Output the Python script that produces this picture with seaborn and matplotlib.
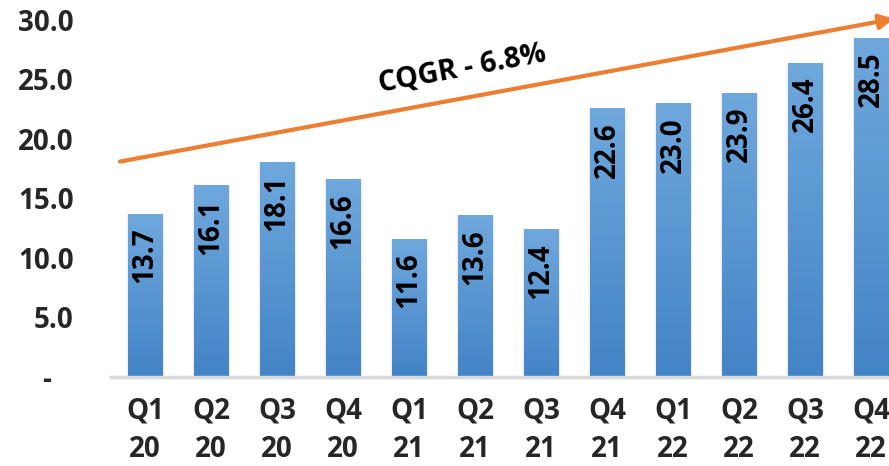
import numpy as np
import pandas as pd
import seaborn as sns
import matplotlib.pyplot as plt
from matplotlib.colors import LinearSegmentedColormap

quarters = ["Q1", "Q2", "Q3", "Q4", "Q1", "Q2", "Q3", "Q4", "Q1", "Q2", "Q3", "Q4"]
years = ["20", "20", "20", "20", "21", "21", "21", "21", "22", "22", "22", "22"]
values = [13.7, 16.1, 18.1, 16.6, 11.6, 13.6, 12.4, 22.6, 23.0, 23.9, 26.4, 28.5]
yticks = [0, 5, 10, 15, 20, 25, 30]
ytick_labels = ["-   ", "5.0", "10.0", "15.0", "20.0", "25.0", "30.0"]
trend_label = "CQGR - 6.8%"
trend_start = (-0.38, 18.1)
trend_end = (11.35, 30.1)

sns.set_style("white")
plt.rcParams["font.family"] = ["Open Sans", "DejaVu Sans"]
plt.rcParams["font.weight"] = "bold"

df = pd.DataFrame({"label": [q + "\n" + y for q, y in zip(quarters, years)],
                   "value": values})

fig = plt.figure(figsize=(8.89, 4.66), dpi=100)
ax = fig.add_axes([111 / 889, 1 - 377 / 466, 1 - 111 / 889, 363 / 466])

sns.barplot(data=df, x="label", y="value", color="#5B9BD5", width=0.52,
            saturation=1, ax=ax, zorder=2)

ax.set_xlim(-0.515, 11.27)
ax.set_ylim(0, 30.5)

# gradient fill for bars
cmap = LinearSegmentedColormap.from_list("bar", ["#4384C6", "#6FA8DD"])
grad = np.linspace(0, 1, 256).reshape(-1, 1)
for p in ax.patches:
    x0, w, h = p.get_x(), p.get_width(), p.get_height()
    # soft shadow behind the bar
    ax.bar(x0 + w / 2, h, width=w + 0.06, color="#d0d0d0", alpha=0.5, zorder=1)
    im = ax.imshow(grad, extent=[x0, x0 + w, 0, h], origin="lower", aspect="auto",
                   cmap=cmap, zorder=3)
    im.set_clip_path(p)
ax.set_xlim(-0.515, 11.27)
ax.set_ylim(0, 30.5)

for i, v in enumerate(values):
    ax.annotate(f"{v:.1f}", xy=(i, v), xytext=(0, -10), textcoords="offset points",
                rotation=90, ha="center", va="top", fontsize=20, fontweight="bold",
                color="black", zorder=5)

ax.annotate("", xy=trend_end, xytext=trend_start, annotation_clip=False,
            arrowprops=dict(arrowstyle="-|>", color="#ED7D31", lw=3,
                            mutation_scale=22, shrinkA=0, shrinkB=0), zorder=6)
ax.text(4.8, 25.9, trend_label, rotation=10.5, rotation_mode="anchor",
        ha="center", va="center", fontsize=20.5, fontweight="bold", color="black")

ax.set_yticks(yticks)
ax.set_yticklabels(ytick_labels, fontsize=20, fontweight="bold")
ax.tick_params(axis="y", length=0, pad=27)
ax.tick_params(axis="x", length=0, pad=14, labelsize=20)
for t in ax.get_xticklabels():
    t.set_fontweight("bold")
    t.set_linespacing(1.45)
ax.set_xlabel("")
ax.set_ylabel("")

sns.despine(ax=ax, left=True, right=True, top=True)
ax.spines["bottom"].set_color("#d9d9d9")
ax.spines["bottom"].set_linewidth(2.5)
ax.spines["bottom"].set_zorder(4)

fig.savefig("out.png", dpi=100)
